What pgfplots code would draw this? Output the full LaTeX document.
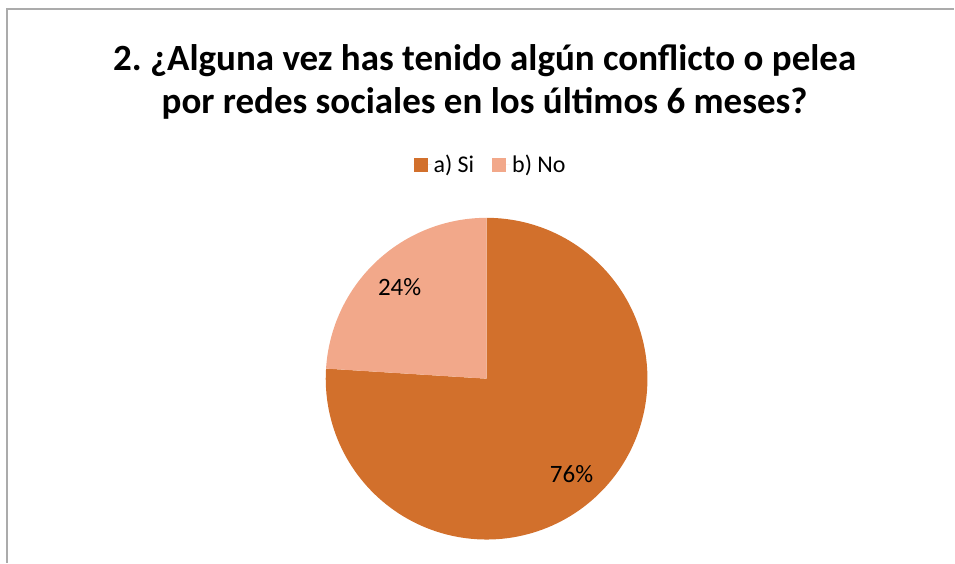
\documentclass[border=0pt]{standalone}
\usepackage{pgfplots}
\pgfplotsset{compat=1.18}
\usepackage{pgfplotstable}
\usepackage{fontspec}
\setmainfont{Carlito}
\frenchspacing

\definecolor{siColor}{HTML}{D2702C}
\definecolor{noColor}{HTML}{F2A88A}
\definecolor{frameGray}{HTML}{ABABAB}

% porcentaje de respuestas
\pgfplotstableread{
cat value
Si  76
No  24
}\piedata

\pgfplotstablegetelem{0}{value}\of\piedata \let\vSi\pgfplotsretval
\pgfplotstablegetelem{1}{value}\of\piedata \let\vNo\pgfplotsretval
\pgfmathsetmacro{\aSi}{90-3.6*\vSi}
\pgfmathsetmacro{\aNo}{\aSi-3.6*\vNo}

\def\cx{487}
\def\cy{184}
\def\rr{161}

\begin{document}
\begin{tikzpicture}
\path (0,0) rectangle (955pt,563pt);
\draw[frameGray, line width=1.6pt] (7pt,0pt) -- (7pt,554pt) -- (955pt,554pt);
\begin{axis}[
  at={(0pt,0pt)}, anchor=origin,
  width=955pt, height=563pt, scale only axis,
  xmin=0, xmax=955, ymin=0, ymax=563,
  hide axis, clip=false,
  legend columns=2,
  legend style={at={(axis cs:491,398)}, anchor=center, draw=none, fill=none,
    font=\fontsize{24}{28}\selectfont,
    /tikz/every even column/.append style={column sep=16pt}},
  legend image code/.code={\fill[#1] (0pt,-7pt) rectangle (14pt,7pt); \path (0pt,0pt) -- (18pt,0pt);},
]
\addplot[fill=siColor, draw=none, domain=\aSi:90, samples=150, variable=\t]
  ({\cx+\rr*cos(\t)},{\cy+\rr*sin(\t)}) -- (axis cs:\cx,\cy) -- cycle;
\addlegendentry{a) Si}
\addplot[fill=noColor, draw=none, domain=\aNo:\aSi, samples=80, variable=\t]
  ({\cx+\rr*cos(\t)},{\cy+\rr*sin(\t)}) -- (axis cs:\cx,\cy) -- cycle;
\addlegendentry{b) No}

\node[font=\fontsize{25}{30}\selectfont] at (axis cs:400,276) {24\%};
\node[font=\fontsize{25}{30}\selectfont] at (axis cs:572,89) {76\%};

\node[font=\fontsize{37}{44}\selectfont\bfseries, align=center] at (axis cs:485,481)
  {2. ¿Alguna vez has tenido algún conflicto o pelea\\por redes sociales en los últimos 6 meses?};
\end{axis}
\end{tikzpicture}
\end{document}
